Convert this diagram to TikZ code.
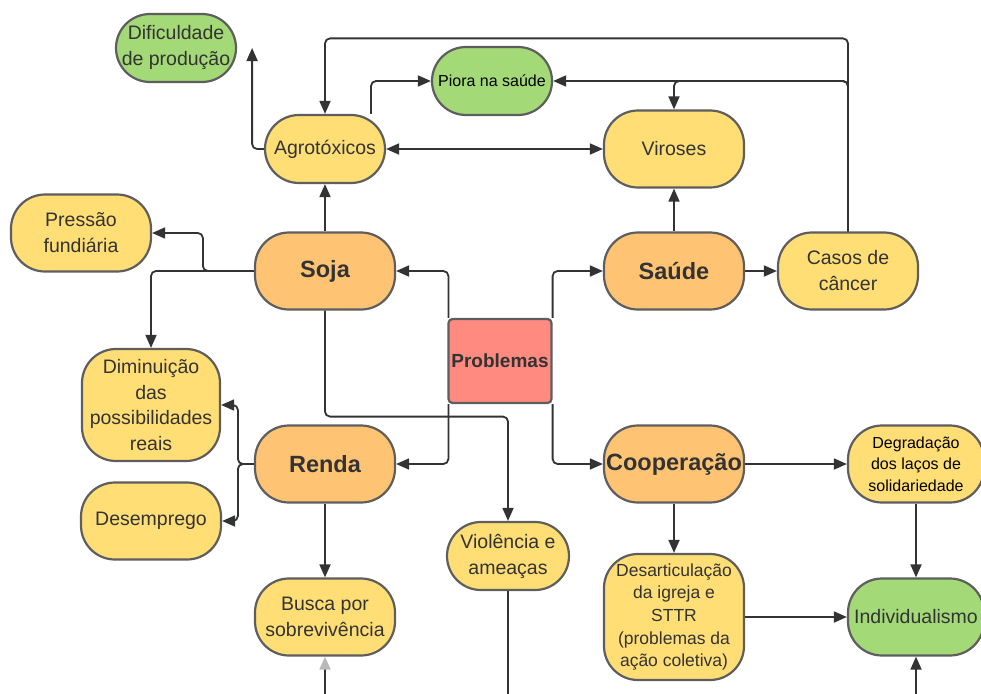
\documentclass[tikz,border=0pt]{standalone}
\usepackage{fontspec}
\setmainfont{Liberation Sans}
\usepackage{xcolor}
\usepackage{tikz}
\usetikzlibrary{arrows.meta}
\usetikzlibrary{positioning}
\definecolor{yell}{HTML}{FFDE75}
\definecolor{orng}{HTML}{FFC374}
\definecolor{grn}{HTML}{A3D977}
\definecolor{redc}{HTML}{FF8A80}
\definecolor{edge}{HTML}{5E5E5E}
\definecolor{ink}{HTML}{333333}
\tikzstyle{box} = [rectangle, rounded corners=34pt, draw=edge, line width=2.2pt, align=center, inner sep=0pt, text=ink, fill=yell, minimum width=140pt, minimum height=77pt, font=\fontsize{19.5}{26}\selectfont]
\tikzstyle{small} = [box, minimum width=120pt, minimum height=68pt]
\tikzstyle{hub} = [box, fill=orng, font=\fontsize{23.5}{28}\selectfont\bfseries]
\tikzstyle{arrow} = [line width=1.8pt, draw=ink, rounded corners=5pt, -{Triangle[length=13pt,width=11pt]}]
\tikzstyle{twoway} = [arrow, {Triangle[length=13pt,width=11pt]}-{Triangle[length=13pt,width=11pt]}]
\tikzstyle{line} = [line width=1.8pt, draw=ink]

\begin{document}
\begin{tikzpicture}[x=1pt, y=1pt]
    \useasboundingbox (0,0) rectangle (981,-693);
    \clip (0,0) rectangle (981,-693);
    \node(soja)[hub] at (325,-271) {Soja};
    \node(agro)[small, node distance=122pt, above of=soja] {Agrotóxicos};
    \node(renda)[hub, node distance=193pt, below of=soja] {Renda};
    \node(busca)[box, node distance=153pt, below of=renda] {Busca por\\sobrevivência};
    \node(saude)[hub, node distance=349pt, right of=soja] {Saúde};
    \node(viroses)[box, node distance=122pt, above of=saude] {Viroses};
    \node(casos)[box, node distance=174pt, right of=saude] {Casos de\\câncer};
    \node(coop)[hub, node distance=193pt, below of=saude] {Cooperação};
    \node(desart)[box, node distance=153pt, below of=coop, minimum height=126pt, font=\fontsize{17.5}{22.7}\selectfont] {Desarticulação\\da igreja e\\STTR\\(problemas da\\ação coletiva)};
    \node(degrad)[box, node distance=242pt, right of=coop, minimum width=136pt, text=black, font=\fontsize{16}{21.5}\selectfont] {Degradação\\dos laços de\\solidariedade};
    \node(indiv)[box, fill=grn, node distance=153pt, below of=degrad, minimum width=136pt] {Individualismo};
    \node(problemas)[box, fill=redc, rounded corners=4pt, minimum width=103pt, minimum height=84pt, font=\fontsize{19}{24}\selectfont\bfseries] at (500,-361) {Problemas};
    \node(piora)[small, fill=grn, text=black, font=\fontsize{16}{21}\selectfont] at (492,-81) {Piora na saúde};
    \node(dif)[small, fill=grn] at (176,-48) {Dificuldade\\de produção};
    \node(pressao)[box] at (81,-233) {Pressão\\fundiária};
    \node(dimin)[box, minimum width=138pt, minimum height=112pt, font=\fontsize{19.5}{25.5}\selectfont] at (151,-405) {Diminuição\\das\\possibilidades\\reais};
    \node(desemp)[box, node distance=116pt, below of=dimin] {Desemprego};
    \node(violencia)[small, minimum width=122pt] at (508,-556) {Violência e\\ameaças};
    \coordinate(vbot) at (508,-700);
    \coordinate(bbot) at (325,-700);
    \coordinate(ibot) at (916,-700);
    %
    \draw[arrow](agro.west) -| ([xshift=15pt]dif.east);
    \draw[arrow](casos.north) -- ++(0,193) -| (agro.north);
    \draw[arrow](casos.north) |- (piora.east);
    \draw[arrow](casos.north) |- (viroses.north |- piora.east) -- (viroses.north);
    \draw[arrow]([xshift=46pt]agro.north) |- (piora.west);
    \draw[twoway](agro) -- (viroses);
    %
    \draw[arrow](soja) -- (agro);
    \draw[arrow](soja.west) -- ++(-51,0) |- (pressao.east);
    \draw[arrow](soja.west) -| (dimin.north);
    \draw[arrow](soja.south) -- ++(0,-106) -| (violencia.north);
    \draw[line](violencia.south) -- (vbot);
    \draw[arrow](renda.west) -- ++(-16,0) |- (dimin.east);
    \draw[arrow](renda.west) -- ++(-16,0) |- (desemp.east);
    \draw[arrow](renda) -- (busca);
    \draw[arrow, -{Triangle[length=13pt,width=11pt,color=gray!55]}](bbot) -- (busca.south);
    %
    \draw[arrow]([xshift=1pt]problemas.north west) |- (soja.east);
    \draw[arrow]([xshift=1pt]problemas.south west) |- (renda.east);
    \draw[arrow](problemas.north east) |- (saude.west);
    \draw[arrow](problemas.south east) |- (coop.west);
    %
    \draw[arrow](saude) -- (viroses);
    \draw[arrow](saude) -- (casos);
    \draw[arrow](coop) -- (degrad);
    \draw[arrow](coop) -- (desart);
    \draw[arrow](degrad) -- (indiv);
    \draw[arrow](desart) -- (indiv);
    \draw[arrow](ibot) -- (indiv.south);
\end{tikzpicture}
\end{document}
